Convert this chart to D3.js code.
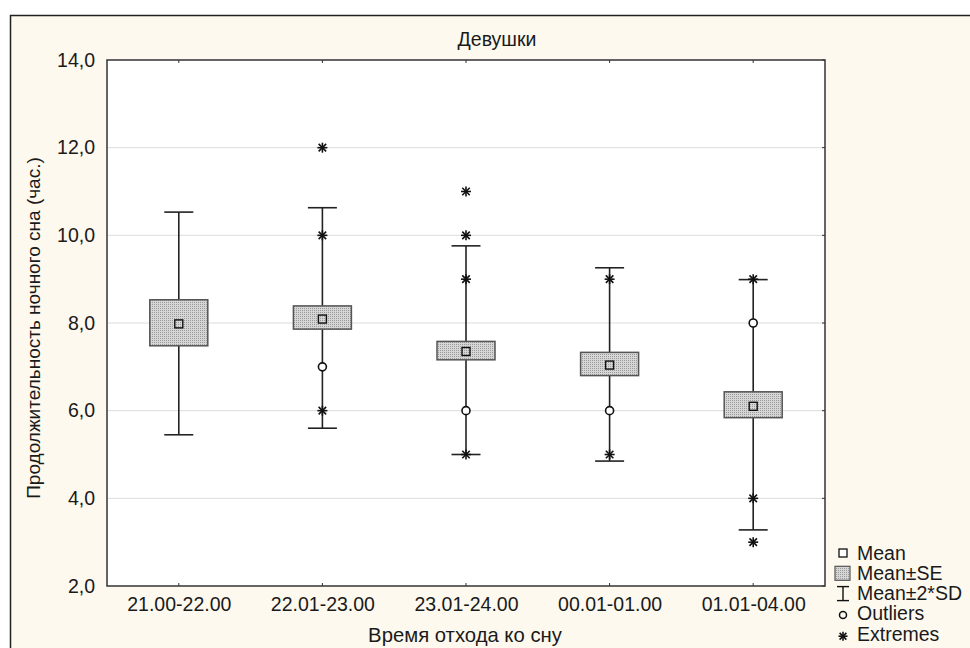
<!DOCTYPE html>
<html>
<head>
<meta charset="utf-8">
<script src="https://cdn.jsdelivr.net/npm/d3@7"></script>
<style>
  html, body { margin: 0; padding: 0; background: #fff; }
  svg { display: block; font-family: 'Liberation Sans', Arial, sans-serif; }
</style>
</head>
<body>
<div id="chart"></div>
<script>
// ─── Data ─────────────────────────────────────────────────────────────────────
const categories = ['21.00-22.00', '22.01-23.00', '23.01-24.00', '00.01-01.00', '01.01-04.00']
const means   = [7.98, 8.09, 7.35, 7.04, 6.10]
const seLow   = [7.48, 7.86, 7.16, 6.80, 5.84]
const seHigh  = [8.53, 8.39, 7.58, 7.33, 6.43]
const sdLow   = [5.45, 5.60, 5.00, 4.85, 3.28]
const sdHigh  = [10.53, 10.63, 9.76, 9.26, 8.99]
const outliers = [[], [7], [6], [6], [8]]
const extremes = [[], [12, 10, 6], [11, 10, 9, 5], [9, 5], [9, 4, 3]]
const yTicks = [2, 4, 6, 8, 10, 12, 14]
const legendItems = ['Mean', 'Mean±SE', 'Mean±2*SD', 'Outliers', 'Extremes']

const W = 970, H = 648
const plot = { left: 107, top: 60, right: 825, bottom: 586 }
const ink = '#1a1a1a'

const svg = d3.select('#chart').append('svg')
  .attr('width', W).attr('height', H)

// Dotted fill for the SE boxes
const defs = svg.append('defs')
const pat = defs.append('pattern')
  .attr('id', 'dots').attr('patternUnits', 'userSpaceOnUse')
  .attr('width', 2).attr('height', 2)
pat.append('rect').attr('width', 2).attr('height', 2).attr('fill', '#d6d6d6')
pat.append('rect').attr('width', 1).attr('height', 1).attr('fill', '#9a9a9a')

// ── Outer frame ──────────────────────────────────────────────────────────────
svg.append('rect')
  .attr('x', 10.5).attr('y', 15.5).attr('width', 980).attr('height', 700)
  .attr('fill', '#fdf9ee').attr('stroke', '#222').attr('stroke-width', 1.5)

svg.append('rect')
  .attr('x', plot.left).attr('y', plot.top)
  .attr('width', plot.right - plot.left).attr('height', plot.bottom - plot.top)
  .attr('fill', '#fff')

// ── Scales ───────────────────────────────────────────────────────────────────
const x = d3.scalePoint().domain(categories).range([plot.left, plot.right]).padding(0.5)
const y = d3.scaleLinear().domain([2, 14]).range([plot.bottom, plot.top])

// Grid
svg.append('g').selectAll('line')
  .data(yTicks.filter(t => t > 2 && t < 14))
  .join('line')
  .attr('x1', plot.left).attr('x2', plot.right)
  .attr('y1', d => y(d)).attr('y2', d => y(d))
  .attr('stroke', '#dcdcdc').attr('stroke-width', 1)

// ── Axes ─────────────────────────────────────────────────────────────────────
const fmt = d => d3.format('.1f')(d).replace('.', ',')

const yAxis = svg.append('g')
  .attr('transform', `translate(${plot.left},0)`)
  .call(d3.axisLeft(y).tickValues(yTicks).tickSize(0).tickPadding(12).tickFormat(fmt))
yAxis.select('.domain').remove()
yAxis.selectAll('text')
  .attr('font-size', 19.5).attr('fill', ink).attr('font-family', 'Liberation Sans, Arial, sans-serif')

// inner tick marks on the right side
svg.append('g').selectAll('line')
  .data(yTicks).join('line')
  .attr('x1', plot.right - 3).attr('x2', plot.right)
  .attr('y1', d => y(d)).attr('y2', d => y(d))
  .attr('stroke', '#333')

const xAxis = svg.append('g')
  .attr('transform', `translate(0,${plot.bottom})`)
  .call(d3.axisBottom(x).tickSize(0).tickPadding(11))
xAxis.select('.domain').remove()
xAxis.selectAll('text')
  .attr('font-size', 19.5).attr('fill', ink).attr('font-family', 'Liberation Sans, Arial, sans-serif')

// inner tick marks top and bottom
categories.forEach(c => {
  svg.append('line').attr('x1', x(c)).attr('x2', x(c))
    .attr('y1', plot.top).attr('y2', plot.top + 3).attr('stroke', '#333')
  svg.append('line').attr('x1', x(c)).attr('x2', x(c))
    .attr('y1', plot.bottom).attr('y2', plot.bottom - 3).attr('stroke', '#333')
})

// plot frame
svg.append('rect')
  .attr('x', plot.left).attr('y', plot.top)
  .attr('width', plot.right - plot.left).attr('height', plot.bottom - plot.top)
  .attr('fill', 'none').attr('stroke', '#333').attr('stroke-width', 1.5)

// ── Titles ───────────────────────────────────────────────────────────────────
svg.append('text')
  .attr('x', 497).attr('y', 46)
  .attr('text-anchor', 'middle').attr('font-size', 19.5).attr('fill', ink)
  .text('Девушки')

svg.append('text')
  .attr('x', 465).attr('y', 642)
  .attr('text-anchor', 'middle').attr('font-size', 20.3).attr('fill', ink)
  .text('Время отхода ко сну')

svg.append('text')
  .attr('transform', `translate(40,${(plot.top + plot.bottom) / 2 + 5}) rotate(-90)`)
  .attr('text-anchor', 'middle').attr('font-size', 19).attr('fill', ink)
  .text('Продолжительность ночного сна (час.)')

// ── Marks ────────────────────────────────────────────────────────────────────
const boxHalf = 29, capHalf = 14.5
const g = svg.append('g')

const star = (sel, cx, cy, r) => {
  const a = [[0, -r, 0, r], [-r, 0, r, 0],
    [-r * 0.75, -r * 0.75, r * 0.75, r * 0.75], [-r * 0.75, r * 0.75, r * 0.75, -r * 0.75]]
  a.forEach(([x1, y1, x2, y2]) => sel.append('line')
    .attr('x1', cx + x1).attr('y1', cy + y1).attr('x2', cx + x2).attr('y2', cy + y2)
    .attr('stroke', '#111').attr('stroke-width', 1.6))
}

categories.forEach((c, i) => {
  const cx = x(c)
  // whisker
  g.append('line').attr('x1', cx).attr('x2', cx)
    .attr('y1', y(sdHigh[i])).attr('y2', y(sdLow[i]))
    .attr('stroke', '#222').attr('stroke-width', 1.6)
  ;[sdHigh[i], sdLow[i]].forEach(v => g.append('line')
    .attr('x1', cx - capHalf).attr('x2', cx + capHalf)
    .attr('y1', y(v)).attr('y2', y(v))
    .attr('stroke', '#222').attr('stroke-width', 1.6))
  // SE box
  g.append('rect')
    .attr('x', cx - boxHalf).attr('width', boxHalf * 2)
    .attr('y', y(seHigh[i])).attr('height', y(seLow[i]) - y(seHigh[i]))
    .attr('fill', 'url(#dots)').attr('stroke', '#555').attr('stroke-width', 1.5)
  // mean
  g.append('rect')
    .attr('x', cx - 4).attr('y', y(means[i]) - 4).attr('width', 8).attr('height', 8)
    .attr('fill', 'none').attr('stroke', '#111').attr('stroke-width', 1.4)
  // outliers
  outliers[i].forEach(v => g.append('circle')
    .attr('cx', cx).attr('cy', y(v)).attr('r', 4)
    .attr('fill', '#fff').attr('stroke', '#111').attr('stroke-width', 1.6))
  // extremes
  extremes[i].forEach(v => star(g, cx, y(v), 5))
})

// ── Legend ───────────────────────────────────────────────────────────────────
const leg = svg.append('g')
const ly0 = 553, lstep = 20.3, lsx = 843, ltx = 857
legendItems.forEach((t, i) => {
  const cy = ly0 + i * lstep
  leg.append('text').attr('x', ltx).attr('y', cy + 6.5)
    .attr('font-size', 19.5).attr('fill', ink).text(t)
  if (i === 0) {
    leg.append('rect').attr('x', lsx - 4).attr('y', cy - 4).attr('width', 8).attr('height', 8)
      .attr('fill', '#fff').attr('stroke', '#111').attr('stroke-width', 1.3)
  } else if (i === 1) {
    leg.append('rect').attr('x', lsx - 8).attr('y', cy - 7).attr('width', 15).attr('height', 14)
      .attr('fill', 'url(#dots)').attr('stroke', '#555').attr('stroke-width', 1.2)
  } else if (i === 2) {
    leg.append('line').attr('x1', lsx).attr('x2', lsx).attr('y1', cy - 7).attr('y2', cy + 7)
      .attr('stroke', '#111').attr('stroke-width', 1.4)
    ;[-7, 7].forEach(o => leg.append('line').attr('x1', lsx - 6).attr('x2', lsx + 6)
      .attr('y1', cy + o).attr('y2', cy + o).attr('stroke', '#111').attr('stroke-width', 1.4))
  } else if (i === 3) {
    leg.append('circle').attr('cx', lsx).attr('cy', cy + 1).attr('r', 3.5)
      .attr('fill', 'none').attr('stroke', '#111').attr('stroke-width', 1.5)
  } else {
    star(leg, lsx, cy + 2, 4.5)
  }
})
</script>
</body>
</html>
